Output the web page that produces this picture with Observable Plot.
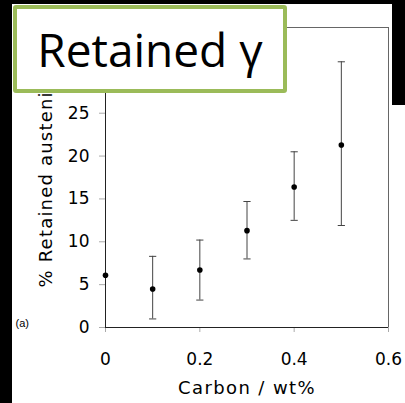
<!DOCTYPE html>
<html>
<head>
<meta charset="utf-8">
<script src="https://cdn.jsdelivr.net/npm/d3@7"></script>
<script src="https://cdn.jsdelivr.net/npm/@observablehq/plot@0.6"></script>
<style>
  html, body { margin: 0; padding: 0; background: #fff; }
  #wrap { position: relative; width: 405px; height: 403px; overflow: hidden; background: #fff; }
  #chart { position: absolute; left: 0; top: 0; }
  .edge { position: absolute; background: #000; }
  #title {
    position: absolute; left: 13px; top: 5px; width: 266px; height: 80px;
    border: 4px solid #9bbb59; border-radius: 3px; background: #fff;
    font-family: "Open Sans", sans-serif; font-size: 46px; color: #000;
    display: flex; align-items: center; justify-content: center;
    box-sizing: content-box;
  }
</style>
</head>
<body>
<div id="wrap">
  <div id="chart"></div>
  <div class="edge" style="left:0;top:0;width:12px;height:403px"></div>
  <div class="edge" style="left:0;top:0;width:405px;height:4px"></div>
  <div class="edge" style="left:392px;top:0;width:13px;height:105px"></div>
  <div id="title">Retained γ</div>
</div>
<script>
// Retained austenite vs. carbon content, mean with min/max range
const carbon   = [0, 0.1, 0.2, 0.3, 0.4, 0.5];
const retained = [6.1, 4.5, 6.7, 11.3, 16.4, 21.3];
const rangeLow  = [null, 1.0, 3.2, 8.0, 12.5, 11.9];
const rangeHigh = [null, 8.3, 10.2, 14.7, 20.5, 31.0];

const xTicks = [0, 0.2, 0.4, 0.6];
const yTicks = [0, 5, 10, 15, 20, 25];

const xTitle = "Carbon / wt%";
const yTitle = "% Retained austenite";

const rows = carbon.map((c, i) => ({carbon: c, retained: retained[i], lo: rangeLow[i], hi: rangeHigh[i]}));
const ranged = rows.filter(d => d.lo != null);

// short horizontal line used as the error-bar cap
const cap = {
  draw(ctx, size) {
    const w = Math.sqrt(size / Math.PI);
    ctx.moveTo(-w, 0);
    ctx.lineTo(w, 0);
  }
};

const chart = Plot.plot({
  width: 405,
  height: 403,
  marginLeft: 105,
  marginRight: 17,
  marginTop: 27,
  marginBottom: 76,
  style: {fontFamily: "DejaVu Sans, Verdana, sans-serif", fontSize: "17px", background: "transparent", color: "#000"},
  x: {domain: [0, 0.6]},
  y: {domain: [0, 35]},
  marks: [
    Plot.frame({stroke: "#666"}),
    Plot.axisX({ticks: xTicks, tickSize: 5, tickPadding: 20, stroke: "#aaa", fill: "#000", label: null, tickFormat: d => String(d)}),
    Plot.axisY({ticks: yTicks, tickSize: 6, tickPadding: 10, stroke: "#aaa", fill: "#000", label: null}),
    Plot.ruleX([0], {stroke: "#222"}),
    Plot.ruleY([0], {stroke: "#222"}),
    Plot.ruleX(ranged, {x: "carbon", y1: "lo", y2: "hi", stroke: "#444"}),
    Plot.dot(ranged, {x: "carbon", y: "lo", symbol: cap, r: 3.6, stroke: "#444", strokeWidth: 1}),
    Plot.dot(ranged, {x: "carbon", y: "hi", symbol: cap, r: 3.6, stroke: "#444", strokeWidth: 1}),
    Plot.dot(rows, {x: "carbon", y: "retained", r: 2.8, fill: "#000"}),
    Plot.text([xTitle], {frameAnchor: "bottom", lineAnchor: "bottom", dy: 66, fontSize: 18}),
    Plot.text([yTitle], {frameAnchor: "bottom-left", textAnchor: "start", lineAnchor: "middle", rotate: -90, dx: -59, dy: -40, fontSize: 18}),
    Plot.text(["(a)"], {frameAnchor: "bottom-left", textAnchor: "start", lineAnchor: "bottom", dx: -90, dy: -1, fontSize: 11, fontFamily: "Liberation Sans, Arial, sans-serif"})
  ]
});

// wider tracking on the two axis titles
d3.select(chart).selectAll("text")
  .filter(function() { return this.textContent === xTitle; })
  .style("letter-spacing", "1.4px");
d3.select(chart).selectAll("text")
  .filter(function() { return this.textContent === yTitle; })
  .style("letter-spacing", "1.2px");

document.getElementById("chart").appendChild(chart);
</script>
</body>
</html>
